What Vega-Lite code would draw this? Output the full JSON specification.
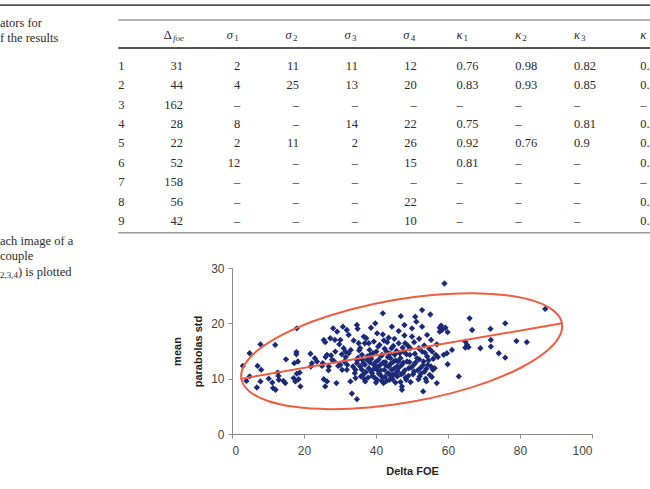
{
 "$schema": "https://vega.github.io/schema/vega-lite/v6.json",
 "background": "white",
 "padding": 0,
 "spacing": 0,
 "bounds": "flush",
 "config": {
  "view": {"stroke": null},
  "text": {"font": "Liberation Serif", "fontSize": 12.5, "color": "#2b2b2b", "baseline": "middle"}
 },
 "datasets": {
  "table": [
   {"row":1,"col":0,"value":"1"},{"row":1,"col":1,"value":"31"},{"row":1,"col":2,"value":"2"},{"row":1,"col":3,"value":"11"},{"row":1,"col":4,"value":"11"},{"row":1,"col":5,"value":"12"},{"row":1,"col":6,"value":"0.76"},{"row":1,"col":7,"value":"0.98"},{"row":1,"col":8,"value":"0.82"},{"row":1,"col":9,"value":"0."},
   {"row":2,"col":0,"value":"2"},{"row":2,"col":1,"value":"44"},{"row":2,"col":2,"value":"4"},{"row":2,"col":3,"value":"25"},{"row":2,"col":4,"value":"13"},{"row":2,"col":5,"value":"20"},{"row":2,"col":6,"value":"0.83"},{"row":2,"col":7,"value":"0.93"},{"row":2,"col":8,"value":"0.85"},{"row":2,"col":9,"value":"0."},
   {"row":3,"col":0,"value":"3"},{"row":3,"col":1,"value":"162"},{"row":3,"col":2,"value":"–"},{"row":3,"col":3,"value":"–"},{"row":3,"col":4,"value":"–"},{"row":3,"col":5,"value":"–"},{"row":3,"col":6,"value":"–"},{"row":3,"col":7,"value":"–"},{"row":3,"col":8,"value":"–"},{"row":3,"col":9,"value":"–"},
   {"row":4,"col":0,"value":"4"},{"row":4,"col":1,"value":"28"},{"row":4,"col":2,"value":"8"},{"row":4,"col":3,"value":"–"},{"row":4,"col":4,"value":"14"},{"row":4,"col":5,"value":"22"},{"row":4,"col":6,"value":"0.75"},{"row":4,"col":7,"value":"–"},{"row":4,"col":8,"value":"0.81"},{"row":4,"col":9,"value":"0."},
   {"row":5,"col":0,"value":"5"},{"row":5,"col":1,"value":"22"},{"row":5,"col":2,"value":"2"},{"row":5,"col":3,"value":"11"},{"row":5,"col":4,"value":"2"},{"row":5,"col":5,"value":"26"},{"row":5,"col":6,"value":"0.92"},{"row":5,"col":7,"value":"0.76"},{"row":5,"col":8,"value":"0.9"},{"row":5,"col":9,"value":"0."},
   {"row":6,"col":0,"value":"6"},{"row":6,"col":1,"value":"52"},{"row":6,"col":2,"value":"12"},{"row":6,"col":3,"value":"–"},{"row":6,"col":4,"value":"–"},{"row":6,"col":5,"value":"15"},{"row":6,"col":6,"value":"0.81"},{"row":6,"col":7,"value":"–"},{"row":6,"col":8,"value":"–"},{"row":6,"col":9,"value":"0."},
   {"row":7,"col":0,"value":"7"},{"row":7,"col":1,"value":"158"},{"row":7,"col":2,"value":"–"},{"row":7,"col":3,"value":"–"},{"row":7,"col":4,"value":"–"},{"row":7,"col":5,"value":"–"},{"row":7,"col":6,"value":"–"},{"row":7,"col":7,"value":"–"},{"row":7,"col":8,"value":"–"},{"row":7,"col":9,"value":"–"},
   {"row":8,"col":0,"value":"8"},{"row":8,"col":1,"value":"56"},{"row":8,"col":2,"value":"–"},{"row":8,"col":3,"value":"–"},{"row":8,"col":4,"value":"–"},{"row":8,"col":5,"value":"22"},{"row":8,"col":6,"value":"–"},{"row":8,"col":7,"value":"–"},{"row":8,"col":8,"value":"–"},{"row":8,"col":9,"value":"0."},
   {"row":9,"col":0,"value":"9"},{"row":9,"col":1,"value":"42"},{"row":9,"col":2,"value":"–"},{"row":9,"col":3,"value":"–"},{"row":9,"col":4,"value":"–"},{"row":9,"col":5,"value":"10"},{"row":9,"col":6,"value":"–"},{"row":9,"col":7,"value":"–"},{"row":9,"col":8,"value":"–"},{"row":9,"col":9,"value":"0."}
  ],
  "header": [
   {"col":1,"sym":"Δ","sub":"foe"},{"col":2,"sym":"σ","sub":"1"},{"col":3,"sym":"σ","sub":"2"},{"col":4,"sym":"σ","sub":"3"},{"col":5,"sym":"σ","sub":"4"},
   {"col":6,"sym":"κ","sub":"1"},{"col":7,"sym":"κ","sub":"2"},{"col":8,"sym":"κ","sub":"3"},{"col":9,"sym":"κ","sub":"4"}
  ],
  "captionTop": [{"line":1,"text":"ators for"},{"line":2,"text":"f the results"}],
  "captionLow": [{"line":1,"text":"ach image of a","sub":""},{"line":2,"text":"couple","sub":""},{"line":3,"text":") is plotted","sub":"2,3,4"}],
  "ellipse": [
   {"t":0,"delta_foe":91.66,"mean_std":20.0},{"t":15,"delta_foe":90.78,"mean_std":17.44},{"t":30,"delta_foe":86.92,"mean_std":14.72},{"t":45,"delta_foe":80.35,"mean_std":12.02},
   {"t":60,"delta_foe":71.5,"mean_std":9.52},{"t":75,"delta_foe":61.0,"mean_std":7.39},{"t":90,"delta_foe":49.58,"mean_std":5.77},{"t":105,"delta_foe":37.97,"mean_std":4.78},
   {"t":120,"delta_foe":26.99,"mean_std":4.49},{"t":135,"delta_foe":17.4,"mean_std":4.91},{"t":150,"delta_foe":9.8,"mean_std":6.02},{"t":165,"delta_foe":4.76,"mean_std":7.73},
   {"t":180,"delta_foe":2.6,"mean_std":9.95},{"t":195,"delta_foe":3.48,"mean_std":12.5},{"t":210,"delta_foe":7.34,"mean_std":15.22},{"t":225,"delta_foe":13.92,"mean_std":17.92},
   {"t":240,"delta_foe":22.76,"mean_std":20.42},{"t":255,"delta_foe":33.23,"mean_std":22.55},{"t":270,"delta_foe":44.68,"mean_std":24.17},{"t":285,"delta_foe":56.29,"mean_std":25.16},
   {"t":300,"delta_foe":67.27,"mean_std":25.45},{"t":315,"delta_foe":76.88,"mean_std":25.02},{"t":330,"delta_foe":84.47,"mean_std":23.92},{"t":345,"delta_foe":89.5,"mean_std":22.2}
  ],
  "axisLine": [{"delta_foe":2.7,"mean_std":10.0},{"delta_foe":91.7,"mean_std":20.0}],
  "points": [
   {"delta_foe":3,"mean_std":12.3},{"delta_foe":4.9,"mean_std":14.6},{"delta_foe":4,"mean_std":9.6},{"delta_foe":4.9,"mean_std":10.4},{"delta_foe":7.1,"mean_std":12.3},{"delta_foe":7.9,"mean_std":16.2},{"delta_foe":6.9,"mean_std":8.4},{"delta_foe":8.1,"mean_std":11.6},{"delta_foe":7.9,"mean_std":9.5},{"delta_foe":10.2,"mean_std":10},{"delta_foe":11.2,"mean_std":9.3},{"delta_foe":11.4,"mean_std":8.3},{"delta_foe":12,"mean_std":16.1},{"delta_foe":12.1,"mean_std":8},{"delta_foe":12.7,"mean_std":11.1},{"delta_foe":12.9,"mean_std":10.5},{"delta_foe":13,"mean_std":9.8},{"delta_foe":14.8,"mean_std":9.2},{"delta_foe":15,"mean_std":13.5},{"delta_foe":14.3,"mean_std":9.6},{"delta_foe":17.3,"mean_std":12.8},{"delta_foe":17.9,"mean_std":14.8},{"delta_foe":17.9,"mean_std":14.4},{"delta_foe":18,"mean_std":19.1},{"delta_foe":17.1,"mean_std":10.1},{"delta_foe":17.6,"mean_std":9.5},{"delta_foe":18,"mean_std":10.9},{"delta_foe":18.8,"mean_std":11.1},{"delta_foe":19,"mean_std":8.6},{"delta_foe":18.5,"mean_std":9.9},{"delta_foe":18.3,"mean_std":13.1},
   {"delta_foe":21.8,"mean_std":14.5},{"delta_foe":22.2,"mean_std":12.8},{"delta_foe":23,"mean_std":13.7},{"delta_foe":21.9,"mean_std":12.2},{"delta_foe":23.6,"mean_std":13.1},{"delta_foe":25.5,"mean_std":17},{"delta_foe":25.9,"mean_std":16.6},{"delta_foe":25.5,"mean_std":9.9},{"delta_foe":25.9,"mean_std":8.6},{"delta_foe":25,"mean_std":12.3},{"delta_foe":26.4,"mean_std":14.3},{"delta_foe":26.9,"mean_std":12.2},{"delta_foe":27.3,"mean_std":17.3},{"delta_foe":26.4,"mean_std":9.5},{"delta_foe":27.8,"mean_std":13.4},{"delta_foe":28.1,"mean_std":19.1},{"delta_foe":28.7,"mean_std":14.9},{"delta_foe":29,"mean_std":9.2},{"delta_foe":29.2,"mean_std":18.5},{"delta_foe":30.1,"mean_std":17},{"delta_foe":30.8,"mean_std":19.4},{"delta_foe":31,"mean_std":15.5},{"delta_foe":31.5,"mean_std":14.9},{"delta_foe":31.2,"mean_std":13.1},{"delta_foe":30.6,"mean_std":11.6},{"delta_foe":30.1,"mean_std":12.5},{"delta_foe":31.9,"mean_std":18.8},{"delta_foe":32.4,"mean_std":17.9},{"delta_foe":32.4,"mean_std":14.6},{"delta_foe":31.9,"mean_std":11.6},{"delta_foe":32.9,"mean_std":9.5},{"delta_foe":33.3,"mean_std":7.3},{"delta_foe":34.7,"mean_std":19.7},{"delta_foe":34.9,"mean_std":19},{"delta_foe":35.2,"mean_std":16.4},{"delta_foe":35,"mean_std":13.8},{"delta_foe":34.7,"mean_std":12.8},{"delta_foe":34.7,"mean_std":6.3},{"delta_foe":34.3,"mean_std":10.1},{"delta_foe":34.1,"mean_std":11},{"delta_foe":34.3,"mean_std":11.6},
   {"delta_foe":35.6,"mean_std":15.5},{"delta_foe":36.1,"mean_std":14.3},{"delta_foe":36.6,"mean_std":17.6},{"delta_foe":36.9,"mean_std":12.5},{"delta_foe":35.6,"mean_std":12.2},{"delta_foe":36.1,"mean_std":11.6},{"delta_foe":36.4,"mean_std":10.7},{"delta_foe":37,"mean_std":9.5},{"delta_foe":37.5,"mean_std":13.4},{"delta_foe":38,"mean_std":11.9},{"delta_foe":38,"mean_std":16.4},{"delta_foe":38.4,"mean_std":14.3},{"delta_foe":38.9,"mean_std":11},{"delta_foe":39.4,"mean_std":12.5},{"delta_foe":39.4,"mean_std":16.7},{"delta_foe":39.8,"mean_std":20},{"delta_foe":40.1,"mean_std":14.9},{"delta_foe":40.3,"mean_std":11.6},{"delta_foe":40.3,"mean_std":9.8},{"delta_foe":40.7,"mean_std":13.4},{"delta_foe":41,"mean_std":16.1},{"delta_foe":41.2,"mean_std":12.5},{"delta_foe":41.2,"mean_std":10.7},{"delta_foe":41.7,"mean_std":14.3},{"delta_foe":41.9,"mean_std":21.8},{"delta_foe":41.9,"mean_std":18},{"delta_foe":42.1,"mean_std":9.2},{"delta_foe":42.3,"mean_std":11.6},{"delta_foe":42.6,"mean_std":13},{"delta_foe":42.9,"mean_std":14.9},{"delta_foe":43.1,"mean_std":16.6},{"delta_foe":43.2,"mean_std":11},{"delta_foe":43.5,"mean_std":12.2},{"delta_foe":43.8,"mean_std":9.8},{"delta_foe":44,"mean_std":13.7},{"delta_foe":44.3,"mean_std":15.5},{"delta_foe":44.4,"mean_std":11.6},{"delta_foe":44.7,"mean_std":10.7},{"delta_foe":44.9,"mean_std":13.1},{"delta_foe":45.2,"mean_std":14.3},{"delta_foe":45.4,"mean_std":9.3},{"delta_foe":45.8,"mean_std":12.2},{"delta_foe":46,"mean_std":11.3},{"delta_foe":46.3,"mean_std":16.4},{"delta_foe":46.3,"mean_std":18.6},{"delta_foe":46.8,"mean_std":13.7},{"delta_foe":46.9,"mean_std":21.3},{"delta_foe":47.2,"mean_std":12.5},{"delta_foe":47.2,"mean_std":8.6},{"delta_foe":47.2,"mean_std":8},{"delta_foe":47.5,"mean_std":11},{"delta_foe":47.7,"mean_std":14.9},{"delta_foe":47.9,"mean_std":19.7},{"delta_foe":48.1,"mean_std":16.4},{"delta_foe":48.4,"mean_std":9.8},{"delta_foe":48.6,"mean_std":13.1},{"delta_foe":49.1,"mean_std":11.9},{"delta_foe":49.4,"mean_std":14.3},{"delta_foe":49.5,"mean_std":15.5},{"delta_foe":50,"mean_std":17.6},{"delta_foe":50,"mean_std":19.1},{"delta_foe":50.5,"mean_std":12.5},{"delta_foe":50.6,"mean_std":11.3},{"delta_foe":50.9,"mean_std":21.2},{"delta_foe":51.2,"mean_std":20.3},{"delta_foe":51.4,"mean_std":13.7},{"delta_foe":51.9,"mean_std":15.5},{"delta_foe":52.1,"mean_std":10.4},{"delta_foe":52.3,"mean_std":11.9},{"delta_foe":52.8,"mean_std":22.4},{"delta_foe":52.8,"mean_std":19.4},{"delta_foe":52.8,"mean_std":14.9},{"delta_foe":53.1,"mean_std":7.7},{"delta_foe":53.2,"mean_std":13.1},{"delta_foe":53.5,"mean_std":11.3},{"delta_foe":54,"mean_std":9.5},{"delta_foe":54.2,"mean_std":17.9},{"delta_foe":54.2,"mean_std":14},{"delta_foe":54.4,"mean_std":12.5},{"delta_foe":54.9,"mean_std":10.7},{"delta_foe":55.1,"mean_std":21.6},{"delta_foe":55.3,"mean_std":17},{"delta_foe":55.6,"mean_std":14.9},{"delta_foe":55.8,"mean_std":11.6},{"delta_foe":56.9,"mean_std":9.2},{"delta_foe":56.9,"mean_std":16.2},{"delta_foe":57.7,"mean_std":19.2},{"delta_foe":57.7,"mean_std":18.5},{"delta_foe":58.1,"mean_std":19.6},{"delta_foe":58.3,"mean_std":18.8},{"delta_foe":58.8,"mean_std":14.3},{"delta_foe":59,"mean_std":27.2},{"delta_foe":59.3,"mean_std":19.2},{"delta_foe":59.7,"mean_std":14.6},{"delta_foe":59.9,"mean_std":18.4},{"delta_foe":59.9,"mean_std":12.6},{"delta_foe":61.1,"mean_std":15.2},{"delta_foe":63,"mean_std":10.4},{"delta_foe":64.8,"mean_std":16.7},{"delta_foe":64.8,"mean_std":15.6},{"delta_foe":65.3,"mean_std":16.1},{"delta_foe":65.7,"mean_std":15.7},{"delta_foe":66,"mean_std":20.9},{"delta_foe":66.7,"mean_std":18.8},{"delta_foe":69,"mean_std":15.5},{"delta_foe":71.8,"mean_std":19},{"delta_foe":71.9,"mean_std":17},{"delta_foe":71.9,"mean_std":15.8},{"delta_foe":74.1,"mean_std":14.6},{"delta_foe":75.9,"mean_std":20},{"delta_foe":75.9,"mean_std":13.8},{"delta_foe":79,"mean_std":16.8},{"delta_foe":81.9,"mean_std":16.6},{"delta_foe":87,"mean_std":22.6},
   {"delta_foe":36.5,"mean_std":12.8},{"delta_foe":37.2,"mean_std":11.2},{"delta_foe":37.8,"mean_std":10.2},{"delta_foe":38.3,"mean_std":12.9},{"delta_foe":38.7,"mean_std":13.6},{"delta_foe":39,"mean_std":10.5},{"delta_foe":39.5,"mean_std":11.8},{"delta_foe":39.9,"mean_std":13},{"delta_foe":40.4,"mean_std":12.1},{"delta_foe":40.8,"mean_std":10.9},{"delta_foe":41.3,"mean_std":11.5},{"delta_foe":41.6,"mean_std":9.6},{"delta_foe":42,"mean_std":12.9},{"delta_foe":42.5,"mean_std":10.3},{"delta_foe":42.8,"mean_std":12.4},{"delta_foe":43.3,"mean_std":13.9},{"delta_foe":43.6,"mean_std":10.9},{"delta_foe":44.1,"mean_std":12.7},{"delta_foe":44.6,"mean_std":9.9},{"delta_foe":45,"mean_std":11.8},{"delta_foe":45.5,"mean_std":13.3},{"delta_foe":45.9,"mean_std":10.4},{"delta_foe":46.4,"mean_std":12},{"delta_foe":46.6,"mean_std":14.6},{"delta_foe":47,"mean_std":10.8},{"delta_foe":47.6,"mean_std":12.9},{"delta_foe":48,"mean_std":11.5},{"delta_foe":48.5,"mean_std":14.4},{"delta_foe":49,"mean_std":10.5},{"delta_foe":49.3,"mean_std":13},{"delta_foe":49.8,"mean_std":12},{"delta_foe":50.3,"mean_std":10.8},{"delta_foe":50.8,"mean_std":14.5},{"delta_foe":51,"mean_std":12.9},{"delta_foe":51.6,"mean_std":11.5},{"delta_foe":52,"mean_std":13.5},{"delta_foe":52.5,"mean_std":10.9},{"delta_foe":53,"mean_std":12.4},{"delta_foe":53.6,"mean_std":14.7},{"delta_foe":54,"mean_std":11.8},{"delta_foe":54.6,"mean_std":13.3},{"delta_foe":55.3,"mean_std":12.2},{"delta_foe":55.5,"mean_std":10.3},{"delta_foe":38.2,"mean_std":15.2},{"delta_foe":39.2,"mean_std":14.6},{"delta_foe":40.6,"mean_std":15.8},{"delta_foe":41.4,"mean_std":14.1},{"delta_foe":42.4,"mean_std":15.4},{"delta_foe":43.8,"mean_std":14.5},{"delta_foe":44.8,"mean_std":15.9},{"delta_foe":45.7,"mean_std":15},{"delta_foe":46.2,"mean_std":13.1},{"delta_foe":47.4,"mean_std":15.6},{"delta_foe":48.8,"mean_std":16},{"delta_foe":35.8,"mean_std":10.4},{"delta_foe":36.8,"mean_std":9.9},{"delta_foe":37.6,"mean_std":14},{"delta_foe":40,"mean_std":9.3},{"delta_foe":41.8,"mean_std":10.2},{"delta_foe":43,"mean_std":9.6},{"delta_foe":44.2,"mean_std":10.3},{"delta_foe":45.3,"mean_std":10.8},{"delta_foe":46.8,"mean_std":9.4},{"delta_foe":48.2,"mean_std":10.2},{"delta_foe":49.6,"mean_std":9.4},{"delta_foe":51.8,"mean_std":9.9},{"delta_foe":53.8,"mean_std":10},{"delta_foe":39.7,"mean_std":10.1},{"delta_foe":38.6,"mean_std":11.4},{"delta_foe":36.2,"mean_std":13.4},{"delta_foe":34.8,"mean_std":13.3},{"delta_foe":33.6,"mean_std":12.2},{"delta_foe":33,"mean_std":15.2},{"delta_foe":32,"mean_std":12.5},{"delta_foe":31.6,"mean_std":13.9},{"delta_foe":30.5,"mean_std":14.4},{"delta_foe":29.5,"mean_std":12.3},{"delta_foe":28.3,"mean_std":13.2},{"delta_foe":27.5,"mean_std":14.2},{"delta_foe":26.8,"mean_std":11.5},{"delta_foe":26,"mean_std":13.9},{"delta_foe":25.2,"mean_std":12.8},{"delta_foe":29.8,"mean_std":16.2},{"delta_foe":28.6,"mean_std":17},{"delta_foe":33.8,"mean_std":16.9},{"delta_foe":36.9,"mean_std":16.4},{"delta_foe":35.3,"mean_std":15.1},{"delta_foe":37.3,"mean_std":17.3},{"delta_foe":43.5,"mean_std":17.4},{"delta_foe":45.1,"mean_std":17.2},{"delta_foe":42.2,"mean_std":16.9},{"delta_foe":50.6,"mean_std":16.6},{"delta_foe":53.4,"mean_std":16},{"delta_foe":52,"mean_std":17.2},{"delta_foe":47.9,"mean_std":17.8},{"delta_foe":44.4,"mean_std":19.4},{"delta_foe":40.3,"mean_std":18.2},{"delta_foe":38.6,"mean_std":19.2},{"delta_foe":55.9,"mean_std":13.6},{"delta_foe":56.3,"mean_std":11.9},{"delta_foe":56.6,"mean_std":14.3},{"delta_foe":54.8,"mean_std":15.4},{"delta_foe":57.2,"mean_std":13.9}
  ]
 },
 "vconcat": [
  {
   "width": 650,
   "height": 268,
   "layer": [
    {"data": {"name": "table"}, "transform": [{"filter": "datum.col == 0"}], "mark": {"type": "text", "align": "left", "dx": 1},
     "encoding": {"x": {"field": "col", "type": "quantitative", "scale": {"domain": [-1.993, 9.061], "nice": false, "zero": false}, "axis": null}, "y": {"field": "row", "type": "quantitative", "scale": {"domain": [-2.406, 11.426], "reverse": true, "nice": false, "zero": false}, "axis": null}, "text": {"field": "value"}}},
    {"data": {"values": [{"part": "page"}]}, "mark": {"type": "rect", "color": "#505050"},
     "encoding": {"x": {"datum": -1.993, "type": "quantitative"}, "x2": {"datum": 9.061}, "y": {"datum": -2.19, "type": "quantitative"}, "y2": {"datum": -2.10}}},
    {"data": {"values": [{"part": "top"}]}, "mark": {"type": "rule", "color": "#9a9a9a", "strokeWidth": 1.5},
     "encoding": {"x": {"datum": 0.019, "type": "quantitative"}, "x2": {"datum": 9.061}, "y": {"datum": -1.374, "type": "quantitative"}}},
    {"data": {"values": [{"part": "head"}]}, "mark": {"type": "rule", "color": "#555555", "strokeWidth": 2},
     "encoding": {"x": {"datum": 0.019, "type": "quantitative"}, "x2": {"datum": 9.061}, "y": {"datum": 0.071, "type": "quantitative"}}},
    {"data": {"values": [{"part": "bottom"}]}, "mark": {"type": "rule", "color": "#9a9a9a", "strokeWidth": 1.5},
     "encoding": {"x": {"datum": 0.019, "type": "quantitative"}, "x2": {"datum": 9.061}, "y": {"datum": 9.609, "type": "quantitative"}}},
    {"data": {"name": "table"}, "transform": [{"filter": "datum.col == 1"}], "mark": {"type": "text", "align": "right", "dx": 7},
     "encoding": {"x": {"field": "col", "type": "quantitative"}, "y": {"field": "row", "type": "quantitative"}, "text": {"field": "value"}}},
    {"data": {"name": "table"}, "transform": [{"filter": "datum.col >= 2 && datum.col <= 5"}], "mark": {"type": "text", "align": "right", "dx": 5.5},
     "encoding": {"x": {"field": "col", "type": "quantitative"}, "y": {"field": "row", "type": "quantitative"}, "text": {"field": "value"}}},
    {"data": {"name": "table"}, "transform": [{"filter": "datum.col >= 6 && datum.col <= 8"}], "mark": {"type": "text", "align": "left", "dx": -13.5},
     "encoding": {"x": {"field": "col", "type": "quantitative"}, "y": {"field": "row", "type": "quantitative"}, "text": {"field": "value"}}},
    {"data": {"name": "table"}, "transform": [{"filter": "datum.col == 9"}], "mark": {"type": "text", "align": "left", "dx": -6.2},
     "encoding": {"x": {"field": "col", "type": "quantitative"}, "y": {"field": "row", "type": "quantitative"}, "text": {"field": "value"}}},
    {"data": {"name": "header"}, "transform": [{"filter": "datum.col == 1"}], "mark": {"type": "text", "align": "right", "dx": -4, "fontSize": 13},
     "encoding": {"x": {"field": "col", "type": "quantitative"}, "y": {"datum": -0.6, "type": "quantitative"}, "text": {"field": "sym"}}},
    {"data": {"name": "header"}, "transform": [{"filter": "datum.col == 1"}], "mark": {"type": "text", "align": "left", "dx": -3, "dy": 3, "fontSize": 9, "fontStyle": "italic"},
     "encoding": {"x": {"field": "col", "type": "quantitative"}, "y": {"datum": -0.6, "type": "quantitative"}, "text": {"field": "sub"}}},
    {"data": {"name": "header"}, "transform": [{"filter": "datum.col >= 2 && datum.col <= 5"}], "mark": {"type": "text", "align": "left", "dx": -8, "fontStyle": "italic"},
     "encoding": {"x": {"field": "col", "type": "quantitative"}, "y": {"datum": -0.6, "type": "quantitative"}, "text": {"field": "sym"}}},
    {"data": {"name": "header"}, "transform": [{"filter": "datum.col >= 2 && datum.col <= 5"}], "mark": {"type": "text", "align": "left", "dx": -0.5, "dy": 3, "fontSize": 9},
     "encoding": {"x": {"field": "col", "type": "quantitative"}, "y": {"datum": -0.6, "type": "quantitative"}, "text": {"field": "sub"}}},
    {"data": {"name": "header"}, "transform": [{"filter": "datum.col >= 6 && datum.col <= 8"}], "mark": {"type": "text", "align": "left", "dx": -13.5, "fontStyle": "italic"},
     "encoding": {"x": {"field": "col", "type": "quantitative"}, "y": {"datum": -0.6, "type": "quantitative"}, "text": {"field": "sym"}}},
    {"data": {"name": "header"}, "transform": [{"filter": "datum.col >= 6 && datum.col <= 8"}], "mark": {"type": "text", "align": "left", "dx": -6.5, "dy": 3, "fontSize": 9},
     "encoding": {"x": {"field": "col", "type": "quantitative"}, "y": {"datum": -0.6, "type": "quantitative"}, "text": {"field": "sub"}}},
    {"data": {"name": "header"}, "transform": [{"filter": "datum.col == 9"}], "mark": {"type": "text", "align": "left", "dx": -6.2, "fontStyle": "italic"},
     "encoding": {"x": {"field": "col", "type": "quantitative"}, "y": {"datum": -0.6, "type": "quantitative"}, "text": {"field": "sym"}}},
    {"data": {"name": "captionTop"}, "transform": [{"filter": "datum.line == 1"}], "mark": {"type": "text", "align": "left"},
     "encoding": {"x": {"datum": -1.993, "type": "quantitative"}, "y": {"datum": -1.219, "type": "quantitative"}, "text": {"field": "text"}}},
    {"data": {"name": "captionTop"}, "transform": [{"filter": "datum.line == 2"}], "mark": {"type": "text", "align": "left"},
     "encoding": {"x": {"datum": -1.993, "type": "quantitative"}, "y": {"datum": -0.445, "type": "quantitative"}, "text": {"field": "text"}}}
   ]
  },
  {
   "hconcat": [
    {
     "width": 231.7,
     "height": 166,
     "data": {"name": "captionLow"},
     "encoding": {
      "x": {"datum": 0, "type": "quantitative", "scale": {"domain": [0, 1]}, "axis": null},
      "y": {"field": "line", "type": "quantitative", "scale": {"domain": [2.742, 13.452], "reverse": true, "nice": false, "zero": false}, "axis": null}
     },
     "layer": [
      {"transform": [{"filter": "datum.line < 3"}], "mark": {"type": "text", "align": "left"}, "encoding": {"text": {"field": "text"}}},
      {"transform": [{"filter": "datum.line == 3"}], "mark": {"type": "text", "align": "left", "dy": 3, "fontSize": 9}, "encoding": {"text": {"field": "sub"}}},
      {"transform": [{"filter": "datum.line == 3"}], "mark": {"type": "text", "align": "left", "dx": 18}, "encoding": {"text": {"field": "text"}}}
     ]
    },
    {
     "width": 360,
     "height": 166,
     "layer": [
      {
       "data": {"name": "points"},
       "mark": {"type": "point", "shape": "diamond", "filled": true, "size": 40, "color": "#1b2a78", "opacity": 1, "strokeWidth": 0},
       "encoding": {
        "x": {"field": "delta_foe", "type": "quantitative", "title": "Delta FOE",
         "scale": {"domain": [0, 100], "nice": false},
         "axis": {"values": [0, 20, 40, 60, 80, 100], "grid": false, "domainColor": "#8a8a8a", "tickColor": "#8a8a8a", "tickSize": 4, "labelFont": "Liberation Sans", "labelFontSize": 12, "labelColor": "#444444", "labelPadding": 7, "titleFont": "Liberation Sans", "titleFontSize": 11, "titleFontWeight": "bold", "titleColor": "#222222", "titlePadding": 9}},
        "y": {"field": "mean_std", "type": "quantitative", "title": ["mean", "parabolas std"],
         "scale": {"domain": [0, 30], "nice": false},
         "axis": {"values": [0, 5, 10, 15, 20, 25, 30], "grid": false, "domainColor": "#8a8a8a", "tickColor": "#8a8a8a", "tickSize": 4, "labelFont": "Liberation Sans", "labelFontSize": 12, "labelColor": "#444444", "labelPadding": 4, "titleFont": "Liberation Sans", "titleFontSize": 11, "titleFontWeight": "bold", "titleColor": "#222222", "titlePadding": 7, "titleLineHeight": 21}}
       }
      },
      {
       "data": {"name": "ellipse"},
       "mark": {"type": "line", "interpolate": "cardinal-closed", "color": "#ef5d40", "strokeWidth": 2},
       "encoding": {
        "x": {"field": "delta_foe", "type": "quantitative", "scale": {"domain": [0, 100], "nice": false}},
        "y": {"field": "mean_std", "type": "quantitative", "scale": {"domain": [0, 30], "nice": false}},
        "order": {"field": "t", "type": "quantitative"}
       }
      },
      {
       "data": {"name": "axisLine"},
       "mark": {"type": "line", "color": "#ef5d40", "strokeWidth": 2},
       "encoding": {
        "x": {"field": "delta_foe", "type": "quantitative", "scale": {"domain": [0, 100], "nice": false}},
        "y": {"field": "mean_std", "type": "quantitative", "scale": {"domain": [0, 30], "nice": false}}
       }
      }
     ]
    }
   ],
   "spacing": 0,
   "bounds": "flush"
  }
 ]
}
